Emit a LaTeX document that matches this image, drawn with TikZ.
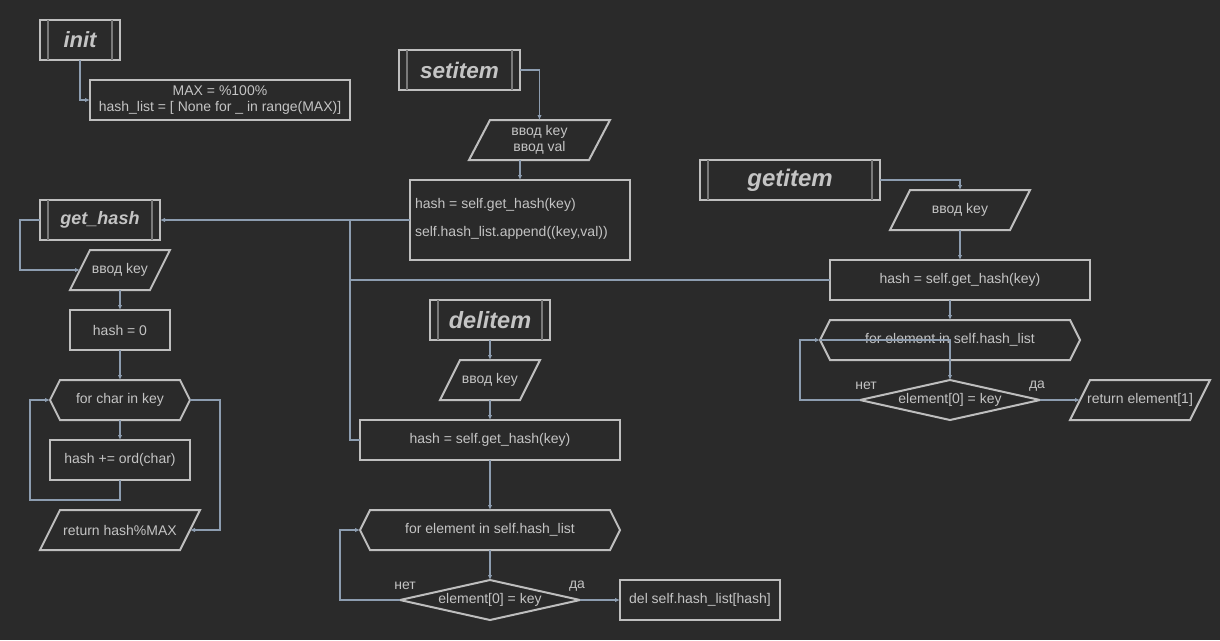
\documentclass[tikz,border=0pt]{standalone}
\usepackage{fontspec}
\setmainfont{Liberation Sans}
\usetikzlibrary{arrows.meta,calc}
\definecolor{bg}{HTML}{2A2A2A}
\definecolor{stk}{HTML}{BEBEBE}
\definecolor{txc}{HTML}{C4C4C4}
\definecolor{cn}{HTML}{8D9DB0}
\definecolor{inl}{HTML}{7A7A7A}
\newcommand\parog[2]{\draw[shp] (#1.south west) -- ($(#1.north west)+(#2,0)$) -- (#1.north east) -- ($(#1.south east)-(#2,0)$) -- cycle;}
\newcommand\hexo[2]{\draw[shp] (#1.west) -- ($(#1.north west)+(#2,0)$) -- ($(#1.north east)-(#2,0)$) -- (#1.east) -- ($(#1.south east)-(#2,0)$) -- ($(#1.south west)+(#2,0)$) -- cycle;}
\newcommand\diam[1]{\draw[shp] (#1.west) -- (#1.north) -- (#1.east) -- (#1.south) -- cycle;}
\newcommand\ttl[1]{\draw[inl] ($(#1.north west)+(8,0)$) -- ($(#1.south west)+(8,0)$); \draw[inl] ($(#1.north east)-(8,0)$) -- ($(#1.south east)-(8,0)$);}
\tikzset{
  x=1pt, y=-1pt,
  base/.style={inner sep=0pt, outer sep=0pt, text=txc, font=\fontsize{14}{15.5}\selectfont, align=center},
  box/.style={base, draw=stk, line width=2pt, minimum width=#1},
  box/.default=100,
  free/.style={base, minimum width=#1},
  shp/.style={draw=stk, line width=2pt, line join=miter},
  inl/.style={draw=inl, line width=2pt},
  title/.style={draw=stk, line width=2pt, inner sep=0pt, outer sep=0pt, text=txc, minimum height=40, minimum width=#1, font=\fontsize{22}{24}\bfseries\itshape},
  conn/.style={draw=cn, line width=1.5pt, -{Latex[length=5pt,width=4.5pt]}},
  connl/.style={draw=cn, line width=1.5pt},
  lbl/.style={base}
}
\begin{document}
\begin{tikzpicture}
\fill[bg] (0,0) rectangle (1220,640);
\useasboundingbox (0,0) rectangle (1220,640);

% init
\node[title=80] (init) at (80,40) {init};
\ttl{init}
\node[box=260, minimum height=40] (maxb) at (220,100) {MAX = \%100\%\\hash\_list = [ None for \_ in range(MAX)]};

% setitem
\node[title=121] (setit) at (459.5,70) {\fontsize{22.5}{24}\selectfont setitem};
\ttl{setit}
\node[free=141, minimum height=40] (in1) at (539.5,140) {ввод key\\ввод val};
\parog{in1}{21}
\node[box=220, minimum height=80] (sbox) at (520,220) {};
\node[base, anchor=west] (s1) at (415,205) {hash = self.get\_hash(key)};
\node[base, anchor=west] (s2) at (415,233) {self.hash\_list.append((key,val))};

% get_hash
\node[title=120] (gh) at (100,220) {\fontsize{18}{20}\selectfont get\_hash};
\ttl{gh}
\node[free=100, minimum height=40] (in2) at (120,270) {ввод key};
\parog{in2}{20}
\node[box=100, minimum height=40] (h0) at (120,330) {hash = 0};
\node[free=140, minimum height=40] (hex1) at (120,400) {for char in key};
\hexo{hex1}{10}
\node[box=140, minimum height=40] (b1) at (120,460) {hash += ord(char)};
\node[free=160, minimum height=40] (ret) at (120,530) {return hash\%MAX};
\parog{ret}{20}

% delitem
\node[title=120] (del) at (490,320) {\fontsize{23.5}{25}\selectfont delitem};
\ttl{del}
\node[free=100, minimum height=40] (in3) at (490,380) {ввод key};
\parog{in3}{20}
\node[box=260, minimum height=40] (dbox) at (490,440) {hash = self.get\_hash(key)};
\node[free=260, minimum height=40] (dhex) at (490,530) {for element in self.hash\_list};
\hexo{dhex}{10}
\node[free=180, minimum height=40] (dd) at (490,600) {element[0] = key};
\diam{dd}
\node[box=160, minimum height=40] (delb) at (700,600) {del self.hash\_list[hash]};
\node[lbl] (dn) at (405,586) {нет};
\node[lbl] (dy) at (577,586) {да};

% getitem
\node[title=180] (gt) at (790,180) {\fontsize{24}{26}\selectfont getitem};
\ttl{gt}
\node[free=140, minimum height=40] (in4) at (960,210) {ввод key};
\parog{in4}{20}
\node[box=260, minimum height=40] (gbox) at (960,280) {hash = self.get\_hash(key)};
\node[free=260, minimum height=40] (ghex) at (950,340) {for element in self.hash\_list};
\hexo{ghex}{10}
\node[free=180, minimum height=40] (gd) at (950,400) {element[0] = key};
\diam{gd}
\node[free=140, minimum height=40] (ret2) at (1140,400) {return element[1]};
\parog{ret2}{20}
\node[lbl] (gn) at (866,386) {нет};
\node[lbl] (gy) at (1037,386) {да};

% connectors
\coordinate (j1) at (350,220);
\draw[conn] (init.south) |- (maxb.west);
\draw[conn] (setit.east) -| (in1.north);
\draw[conn] (in1.south -| sbox.north) -- (sbox.north);
\draw[conn] (sbox.west) -- (gh.east);
\draw[connl] (dbox.west) -| (j1);
\draw[connl] (gbox.west) -| (j1);

\draw[conn] (gh.west) -- ++(-20,0) |- ([xshift=10]in2.west);
\draw[conn] (in2.south) -- (h0.north);
\draw[conn] (h0.south) -- (hex1.north);
\draw[conn] (hex1.south) -- (b1.north);
\draw[conn] (b1.south) -- ++(0,20) -| ([xshift=-20]hex1.west) -- (hex1.west);
\draw[conn] (hex1.east) -- ++(30,0) |- ([xshift=-10]ret.east);

\draw[conn] (del.south) -- (in3.north);
\draw[conn] (in3.south) -- (dbox.north);
\draw[conn] (dbox.south) -- (dhex.north);
\draw[conn] (dhex.south) -- (dd.north);
\draw[conn] (dd.west) -- ++(-60,0) |- (dhex.west);
\draw[conn] (dd.east) -- (delb.west);

\draw[conn] (gt.east) -| (in4.north);
\draw[conn] (in4.south) -- (gbox.north);
\draw[conn] (gbox.south -| ghex.north) -- (ghex.north);
\draw[conn] (ghex.west) -| (gd.north);
\draw[conn] (gd.west) -- ++(-60,0) |- (ghex.west);
\draw[conn] (gd.east) -- ([xshift=10]ret2.west);
\end{tikzpicture}
\end{document}
